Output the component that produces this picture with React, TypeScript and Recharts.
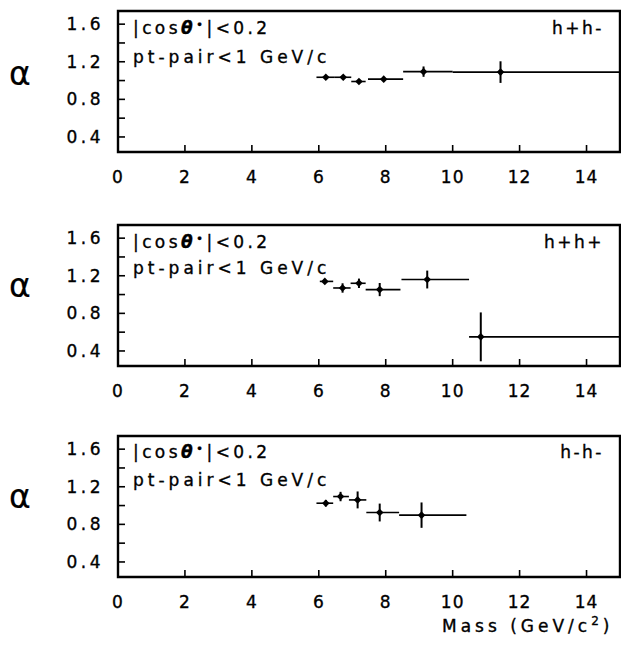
import React from "react";
import { ScatterChart, Scatter, XAxis, YAxis, ErrorBar, ReferenceArea, Customized } from "recharts";

// ---- data ----
const X_TICKS = [0, 2, 4, 6, 8, 10, 12, 14];
const Y_TICKS = [0.4, 0.6, 0.8, 1.0, 1.2, 1.4, 1.6];
const Y_LABELED = ["0.4", "0.8", "1.2", "1.6"];
const X_DOMAIN = [0, 15];
const Y_DOMAIN = [0.24, 1.74];

const CUT_LINE1 = "|cos";
const CUT_LINE2 = "pt-pair<1 GeV/c";
const X_TITLE = "Mass (GeV/c";

// h+h-
const massPM = [6.21, 6.73, 7.2, 7.94, 9.13, 11.43];
const alphaPM = [1.035, 1.035, 0.99, 1.015, 1.095, 1.09];
const errPM = [0.01, 0.01, 0.01, 0.015, 0.055, 0.115];
const binLoPM = [5.93, 6.48, 6.97, 7.47, 8.52, 10.0];
const binHiPM = [6.48, 6.97, 7.4, 8.52, 10.0, 15.0];

// h+h+
const massPP = [6.18, 6.71, 7.2, 7.82, 9.24, 10.84];
const alphaPP = [1.14, 1.07, 1.12, 1.053, 1.16, 0.55];
const errPP = [0.02, 0.05, 0.05, 0.07, 0.095, 0.26];
const binLoPP = [6.03, 6.43, 6.95, 7.4, 8.47, 10.49];
const binHiPP = [6.43, 6.95, 7.4, 8.44, 10.49, 15.0];

// h-h-
const massMM = [6.21, 6.65, 7.16, 7.82, 9.07];
const alphaMM = [1.025, 1.096, 1.06, 0.926, 0.898];
const errMM = [0.035, 0.05, 0.09, 0.095, 0.135];
const binLoMM = [5.93, 6.43, 6.9, 7.42, 8.4];
const binHiMM = [6.43, 6.9, 7.42, 8.4, 10.41];

// ---- layout ----
const W = 621;
const PLOT_LEFT = 118;
const MT = 11;
const PH = 141;
const XAX_H = 40;
const CH = MT + PH + XAX_H;
const FONT = "'DejaVu Sans', sans-serif";
const TXT = { fill: "#000", stroke: "#000", strokeWidth: 0.35 };

const YTick = (props: any) => {
  const { y, payload } = props;
  const lbl = Number(payload.value).toFixed(1);
  return (
    <g>
      <line x1={PLOT_LEFT} x2={PLOT_LEFT + 7} y1={y} y2={y} stroke="#000" strokeWidth={1.6} />
      {Y_LABELED.includes(lbl) && (
        <text x={104} y={y + 6} textAnchor="end" fontSize={17} fontFamily={FONT} letterSpacing={3.5} {...TXT}>
          {lbl}
        </text>
      )}
    </g>
  );
};

const XTick = (props: any) => {
  const { x, payload } = props;
  const base = MT + PH;
  return (
    <g>
      <line x1={x} x2={x} y1={base} y2={base - 7} stroke="#000" strokeWidth={1.6} />
      <text x={x} y={base + 31} textAnchor="middle" fontSize={17} fontFamily={FONT} letterSpacing={1} {...TXT}>
        {payload.value}
      </text>
    </g>
  );
};

const Dot = (props: any) => {
  const { cx, cy } = props;
  const r = 3.8;
  return <path d={`M${cx - r},${cy} L${cx},${cy - r} L${cx + r},${cy} L${cx},${cy + r} Z`} fill="#000" />;
};

type PanelProps = {
  top: number;
  masses: number[];
  alphas: number[];
  errs: number[];
  lo: number[];
  hi: number[];
  charge: string;
  alphaY: number;
  l1: number;
  l2: number;
};

function Panel({ top, masses, alphas, errs, lo, hi, charge, alphaY, l1, l2 }: PanelProps) {
  const data = masses.map((m, i) => ({ x: m, y: alphas[i], ex: [m - lo[i], hi[i] - m], ey: errs[i] }));
  const Labels = () => (
    <g fontFamily={FONT} {...TXT}>
      <text x={20} y={MT + alphaY} textAnchor="middle" fontSize={33} strokeWidth={0.2}>
        α
      </text>
      <text x={133} y={MT + l1} fontSize={17} letterSpacing={3.4}>
        {CUT_LINE1}
        <tspan fontStyle="italic" fontWeight="bold">θ</tspan>
        <tspan dy={-5} fontSize={12}>•</tspan>
        <tspan dy={5}>|&lt;0.2</tspan>
      </text>
      <text x={133} y={MT + l2} fontSize={17} letterSpacing={4}>
        {CUT_LINE2}
      </text>
      <text x={604} y={MT + l1} textAnchor="end" fontSize={17} letterSpacing={2.5}>
        {charge}
      </text>
    </g>
  );
  return (
    <div style={{ position: "absolute", left: 0, top }}>
      <ScatterChart width={W} height={CH} margin={{ top: MT, right: 1, bottom: 0, left: 0 }}>
        <XAxis
          type="number"
          dataKey="x"
          domain={X_DOMAIN}
          ticks={X_TICKS}
          allowDataOverflow
          axisLine={false}
          tickLine={false}
          height={XAX_H}
          tick={<XTick />}
          interval={0}
        />
        <YAxis
          type="number"
          dataKey="y"
          domain={Y_DOMAIN}
          ticks={Y_TICKS}
          allowDataOverflow
          axisLine={false}
          tickLine={false}
          width={PLOT_LEFT}
          tick={<YTick />}
          interval={0}
        />
        <ReferenceArea
          x1={X_DOMAIN[0]}
          x2={X_DOMAIN[1]}
          y1={Y_DOMAIN[0]}
          y2={Y_DOMAIN[1]}
          fill="none"
          fillOpacity={0}
          stroke="#000"
          strokeWidth={2.4}
          ifOverflow="visible"
        />
        <Scatter data={data} shape={<Dot />} isAnimationActive={false}>
          <ErrorBar dataKey="ex" direction="x" width={0} stroke="#000" strokeWidth={1.6} isAnimationActive={false} />
          <ErrorBar dataKey="ey" direction="y" width={0} stroke="#000" strokeWidth={2} isAnimationActive={false} />
        </Scatter>
        <Customized component={Labels} />
      </ScatterChart>
    </div>
  );
}

export default function App() {
  return (
    <div style={{ position: "absolute", left: 0, top: 0, width: W, height: 647, background: "#fff", overflow: "hidden" }}>
      <Panel top={0} masses={massPM} alphas={alphaPM} errs={errPM} lo={binLoPM} hi={binHiPM} charge="h+h-" alphaY={74} l1={23} l2={51.5} />
      <Panel top={213.5} masses={massPP} alphas={alphaPP} errs={errPP} lo={binLoPP} hi={binHiPP} charge="h+h+" alphaY={72} l1={22.5} l2={49} />
      <Panel top={425} masses={massMM} alphas={alphaMM} errs={errMM} lo={binLoMM} hi={binHiMM} charge="h-h-" alphaY={72} l1={22} l2={50} />
      <svg style={{ position: "absolute", left: 0, top: 600 }} width={W} height={47}>
        <text x={442} y={32} fontSize={17} fontFamily={FONT} letterSpacing={4} {...TXT}>
          {X_TITLE}
          <tspan dy={-7} fontSize={12}>2</tspan>
          <tspan dy={7}>)</tspan>
        </text>
      </svg>
    </div>
  );
}
